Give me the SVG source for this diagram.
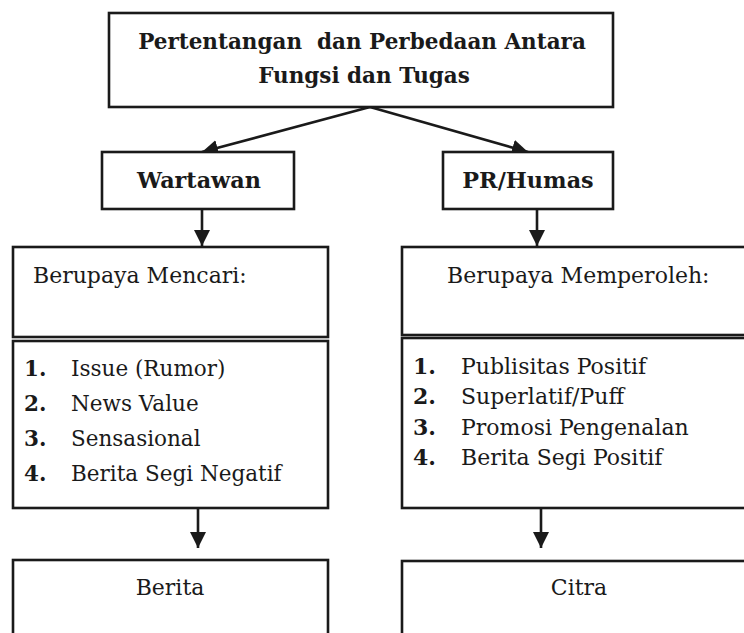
<svg xmlns="http://www.w3.org/2000/svg" width="744" height="633" viewBox="0 0 744 633">
<defs>
<marker id="ah" viewBox="0 0 14 14" refX="14" refY="7" markerWidth="16" markerHeight="16" markerUnits="userSpaceOnUse" orient="auto">
<path d="M0,0 L14,7 L0,14 Z" fill="#1a1a1a"/>
</marker>
<style>
.box{fill:#fff;stroke:#1a1a1a;stroke-width:2.6}
.t{font-family:"DejaVu Serif","Liberation Serif",serif;fill:#1a1a1a;font-size:22px}
.s{font-size:21.5px}
.b{font-weight:700}
.c{text-anchor:middle}
.h{font-size:21.5px}
.k{font-size:22.3px}
.con{stroke:#1a1a1a;stroke-width:2.6;fill:none;marker-end:url(#ah)}
</style>
</defs>
<rect width="744" height="633" fill="#fff"/>
<g id="connectors">
<line class="con" x1="370" y1="107" x2="202" y2="152"/>
<line class="con" x1="370" y1="107" x2="528" y2="152"/>
<line class="con" x1="202" y1="209" x2="202" y2="246"/>
<line class="con" x1="537" y1="209" x2="537" y2="246"/>
<line class="con" x1="198" y1="508" x2="198" y2="548"/>
<line class="con" x1="541" y1="508" x2="541" y2="548"/>
</g>
<g id="title">
<rect class="box" x="109" y="13" width="504" height="94"/>
<text class="t b c h" x="362" y="49" xml:space="preserve">Pertentangan  dan Perbedaan Antara</text>
<text class="t b c h" x="364" y="83">Fungsi dan Tugas</text>
</g>
<g id="wartawan">
<rect class="box" x="102" y="152" width="192" height="57"/>
<text class="t b c k" x="199" y="188">Wartawan</text>
</g>
<g id="prhumas">
<rect class="box" x="443" y="152" width="170" height="57"/>
<text class="t b c k" x="528" y="188">PR/Humas</text>
</g>
<g id="mencari">
<rect class="box" x="13" y="247" width="315" height="90"/>
<text class="t" x="33" y="283">Berupaya Mencari:</text>
</g>
<g id="list-wartawan">
<rect class="box" x="13" y="341" width="315" height="167"/>
<text class="t b s" x="24" y="376">1.</text><text class="t s" x="71" y="376">Issue (Rumor)</text>
<text class="t b s" x="24" y="411">2.</text><text class="t s" x="71" y="411">News Value</text>
<text class="t b s" x="24" y="446">3.</text><text class="t s" x="71" y="446">Sensasional</text>
<text class="t b s" x="24" y="481">4.</text><text class="t s" x="71" y="481">Berita Segi Negatif</text>
</g>
<g id="berita">
<rect class="box" x="13" y="560" width="315" height="90"/>
<text class="t c" x="170" y="595">Berita</text>
</g>
<g id="memperoleh">
<rect class="box" x="402" y="247" width="360" height="88"/>
<text class="t" x="447" y="283">Berupaya Memperoleh:</text>
</g>
<g id="list-pr">
<rect class="box" x="402" y="338" width="360" height="170"/>
<text class="t b" x="413" y="374">1.</text><text class="t" x="461" y="374">Publisitas Positif</text>
<text class="t b" x="413" y="404">2.</text><text class="t" x="461" y="404">Superlatif/Puff</text>
<text class="t b" x="413" y="435">3.</text><text class="t" x="461" y="435">Promosi Pengenalan</text>
<text class="t b" x="413" y="465">4.</text><text class="t" x="461" y="465">Berita Segi Positif</text>
</g>
<g id="citra">
<rect class="box" x="402" y="561" width="360" height="90"/>
<text class="t c" x="579" y="595">Citra</text>
</g>
</svg>
